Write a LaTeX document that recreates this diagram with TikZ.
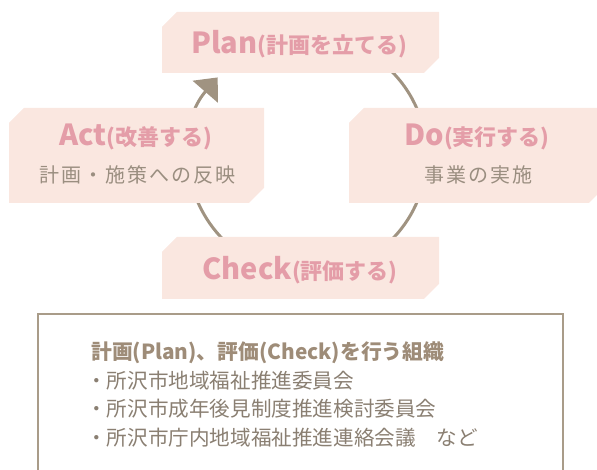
\documentclass[tikz,border=0pt]{standalone}
\usepackage{fontspec}
\setmainfont{Noto Sans CJK JP}
\newfontfamily\jpls[LetterSpace=10]{Noto Sans CJK JP}
\usetikzlibrary{arrows.meta}
\definecolor{boxfill}{HTML}{FAE7E0}
\definecolor{titlepink}{HTML}{E49DA8}
\definecolor{subgray}{HTML}{9A8E80}
\definecolor{cycleline}{HTML}{A09381}
\definecolor{framecol}{HTML}{A99C89}
\definecolor{headcol}{HTML}{9E8C78}
\definecolor{bodycol}{HTML}{8A7F72}
\newcommand\chbox[4]{% left, top, right, bottom
  \fill[boxfill] (#1,#2-15) -- (#1+15,#2) -- (#3,#2) -- (#3,#4+15) -- (#3-15,#4) -- (#1,#4) -- cycle;}
\newcommand\bigL{\fontsize{29}{29}\selectfont}
\newcommand\smallJ{\fontsize{22}{22}\selectfont}
\begin{document}
\begin{tikzpicture}[x=1pt,y=1pt,
  titletext/.style={text=titlepink, font=\bfseries, inner sep=0pt, anchor=base},
  subtext/.style={text=subgray, font=\jpls\fontsize{20}{20}\selectfont, inner sep=0pt, anchor=base},
  headtext/.style={text=headcol, font=\bfseries\fontsize{20.8}{20.8}\selectfont, inner sep=0pt, anchor=base west},
  bodytext/.style={text=bodycol, font=\fontsize{20.6}{20.6}\selectfont, inner sep=0pt, anchor=base west},
  cyclearrow/.style={draw=cycleline, line width=3pt, -{Triangle[length=19pt,width=33pt]}}]
\useasboundingbox (0,0) rectangle (597,470);
\clip (0,0) rectangle (597,470);
% cycle
\coordinate (c) at (307.5,314.5);
\draw[cyclearrow] (c) ++(130:119) arc[start angle=130, end angle=-221, radius=119];
% boxes
\chbox{162}{458}{439}{397}
\chbox{9}{362}{264}{267}
\chbox{349}{362}{604}{267}
\chbox{162}{233}{439}{171}
% texts
\node[titletext] (plan) at (299,416.7) {\bigL Plan\smallJ(計画を立てる)};
\node[titletext] (act) at (136,324) {\bigL Act\smallJ(改善する)};
\node[subtext] (actsub) at (137,287) {計画・施策への反映};
\node[titletext] (do) at (477,324.5) {\bigL Do\smallJ(実行する)};
\node[subtext] (dosub) at (478,287.5) {事業の実施};
\node[titletext] (check) at (300,190) {\bigL Check\smallJ(評価する)};
% organisations frame
\draw[framecol, line width=1.6pt] (38,-5) -- (38,156) -- (563,156) -- (563,-5);
\node[headtext] (head) at (91,110) {計画(Plan)、評価(Check)を行う組織};
\node[bodytext] (l1) at (86,81.5) {・所沢市地域福祉推進委員会};
\node[bodytext] (l2) at (86,53) {・所沢市成年後見制度推進検討委員会};
\node[bodytext] (l3) at (86,24.5) {・所沢市庁内地域福祉推進連絡会議　など};
\end{tikzpicture}
\end{document}
